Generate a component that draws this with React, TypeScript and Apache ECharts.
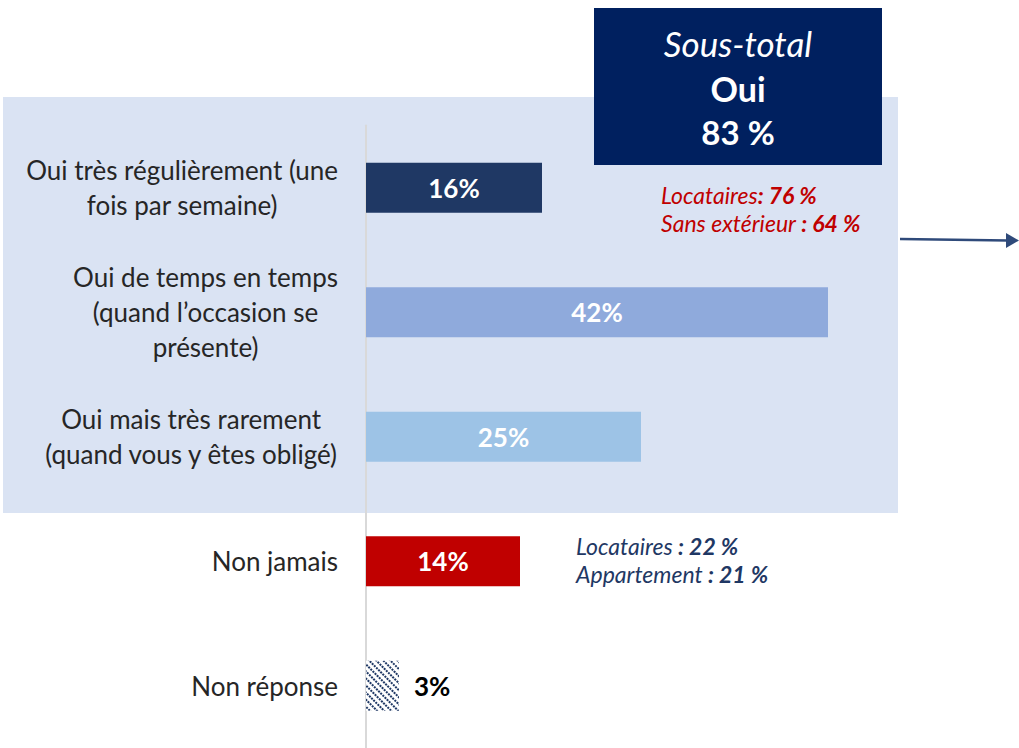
import React, { useEffect, useRef } from "react";
import * as echarts from "echarts";

const categories = [
  "Oui très régulièrement (une\nfois par semaine)",
  "Oui de temps en temps\n(quand l’occasion se\nprésente)",
  "Oui mais très rarement\n(quand vous y êtes obligé)",
  "Non jamais",
  "Non réponse",
];
const values = [16, 42, 25, 14, 3];
const barColors = ["#1f3864", "#8faadc", "#9dc3e6", "#c00000", "#ffffff"];

const subtotalTitle = "Sous-total";
const subtotalLabel = "Oui";
const subtotalValue = "83 %";

const ouiNotes = [
  ["Locataires", ": 76 %"],
  ["Sans extérieur ", ": 64 %"],
];
const nonNotes = [
  ["Locataires ", ": 22 %"],
  ["Appartement ", ": 21 %"],
];

const FONT = "Lato, 'Open Sans', sans-serif";

export default function App() {
  const ref = useRef<HTMLDivElement>(null);
  useEffect(() => {
    if (!ref.current) return;
    const chart = echarts.init(ref.current, null, { renderer: "svg" });
    const data = values.map((v, i) => {
      const last = i === values.length - 1;
      return {
        value: v,
        itemStyle: last
          ? {
              color: "#ffffff",
              decal: {
                symbol: "rect",
                symbolSize: 1,
                color: "#1f3864",
                backgroundColor: "#ffffff",
                dashArrayX: [2, 1],
                dashArrayY: [1.5, 3],
                rotation: Math.PI / 4,
              },
            }
          : { color: barColors[i] },
        label: last
          ? { position: "right", distance: 15, color: "#000000" }
          : { position: "inside", color: "#ffffff" },
      };
    });
    chart.setOption({
      animation: false,
      textStyle: { fontFamily: FONT },
      grid: { left: 366, top: 125.5, width: 550, height: 625, containLabel: false },
      xAxis: {
        type: "value",
        min: 0,
        max: 50,
        show: false,
      },
      yAxis: {
        type: "category",
        inverse: true,
        data: categories,
        axisLine: { show: true, lineStyle: { color: "#d9d9d9", width: 2 } },
        axisTick: { show: false },
        axisLabel: {
          margin: 28,
          formatter: (v: string) =>
            v
              .split("\n")
              .map((l) => `{c|${l}}`)
              .join("\n"),
          rich: {
            c: {
              align: "center",
              fontSize: 26,
              lineHeight: 35,
              color: "#262626",
              fontFamily: FONT,
            },
          },
        },
      },
      graphic: [
        {
          type: "rect",
          z: -10,
          shape: { x: 3, y: 97, width: 895, height: 416 },
          style: { fill: "#dae3f3" },
        },
        {
          type: "rect",
          z: 10,
          shape: { x: 594, y: 8, width: 288, height: 157 },
          style: { fill: "#00205f" },
        },
        {
          type: "text",
          z: 11,
          x: 738,
          y: 43,
          style: {
            text: subtotalTitle,
            fill: "#ffffff",
            font: `italic 35px ${FONT}`,
            align: "center",
            verticalAlign: "middle",
          },
        },
        {
          type: "text",
          z: 11,
          x: 738,
          y: 88,
          style: {
            text: subtotalLabel,
            fill: "#ffffff",
            font: `bold 34px ${FONT}`,
            align: "center",
            verticalAlign: "middle",
          },
        },
        {
          type: "text",
          z: 11,
          x: 738,
          y: 132,
          style: {
            text: subtotalValue,
            fill: "#ffffff",
            font: `bold 33px ${FONT}`,
            align: "center",
            verticalAlign: "middle",
          },
        },
        ...ouiNotes.map((n, i) => ({
          type: "text",
          z: 11,
          x: 661,
          y: 195 + i * 28,
          style: {
            text: `{a|${n[0]}}{b|${n[1]}}`,
            verticalAlign: "middle",
            rich: {
              a: { fontFamily: FONT, fontStyle: "italic", fontSize: 23, fill: "#c00000", color: "#c00000" },
              b: { fontFamily: FONT, fontStyle: "italic", fontWeight: "bold", fontSize: 23, fill: "#c00000", color: "#c00000" },
            },
          },
        })),
        ...nonNotes.map((n, i) => ({
          type: "text",
          z: 11,
          x: 576,
          y: 546 + i * 28,
          style: {
            text: `{a|${n[0]}}{b|${n[1]}}`,
            verticalAlign: "middle",
            rich: {
              a: { fontFamily: FONT, fontStyle: "italic", fontSize: 23, fill: "#1f3864", color: "#1f3864" },
              b: { fontFamily: FONT, fontStyle: "italic", fontWeight: "bold", fontSize: 23, fill: "#1f3864", color: "#1f3864" },
            },
          },
        })),
        {
          type: "line",
          z: 11,
          shape: { x1: 900, y1: 239, x2: 1008, y2: 240.5 },
          style: { stroke: "#2f4a7a", lineWidth: 2.5 },
        },
        {
          type: "polygon",
          z: 11,
          shape: { points: [[1006, 233], [1019, 240.5], [1006, 248]] },
          style: { fill: "#2f4a7a" },
        },
      ],
      series: [
        {
          type: "bar",
          data,
          barWidth: 50,
          label: {
            show: true,
            formatter: "{c}%",
            fontSize: 26,
            fontWeight: "bold",
            fontFamily: FONT,
          },
        },
      ],
    });
    return () => chart.dispose();
  }, []);
  return (
    <div
      ref={ref}
      style={{ position: "absolute", left: 0, top: 0, width: 1019, height: 748 }}
    />
  );
}
